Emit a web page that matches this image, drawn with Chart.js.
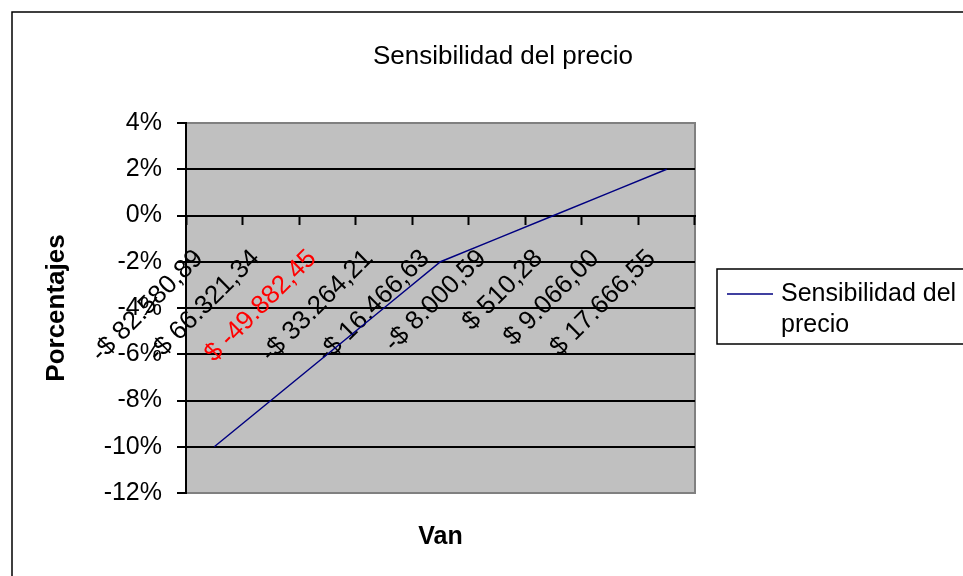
<!DOCTYPE html>
<html>
<head>
<meta charset="utf-8">
<script src="https://cdn.jsdelivr.net/npm/chart.js@4"></script>
<style>
  body { margin: 0; background: #fff; }
  canvas { display: block; }
</style>
</head>
<body>
<canvas id="sensChart" width="963" height="576"></canvas>
<script>
// Datos
const vanLabels = ['-$ 82.580,89', '-$ 66.321,34', '$ -49.882,45', '-$ 33.264,21', '-$ 16.466,63',
                   '-$ 8.000,59', '$ 510,28', '$ 9.066,00', '$ 17.666,55'];
const porcentajes = [-10, -8, -6, -4, -2, -1, 0, 1, 2];
const yMin = -12;
const yMax = 4;
const yStep = 2;
const redLabelIndex = 2;

const chartTitle = 'Sensibilidad del precio';
const xTitle = 'Van';
const yTitle = 'Porcentajes';

Chart.defaults.font.family = '"Liberation Sans", Arial, sans-serif';
Chart.defaults.color = '#000';

// Fondo gris, bordes, título, "Van" y leyenda
const excelLook = {
    id: 'excelLook',
    beforeDraw(chart) {
        const ctx = chart.ctx;
        const a = chart.chartArea;
        ctx.save();
        ctx.fillStyle = '#fff';
        ctx.fillRect(0, 0, chart.width, chart.height);
        ctx.strokeStyle = '#000';
        ctx.lineWidth = 1.5;
        ctx.strokeRect(12, 12, chart.width + 20, chart.height + 20);
        ctx.fillStyle = '#c0c0c0';
        ctx.fillRect(a.left, a.top, a.right - a.left, a.bottom - a.top);
        ctx.strokeStyle = '#808080';
        ctx.lineWidth = 2;
        ctx.strokeRect(a.left, a.top, a.right - a.left, a.bottom - a.top);
        ctx.restore();
    },
    afterDraw(chart) {
        const ctx = chart.ctx;
        const a = chart.chartArea;
        ctx.save();
        ctx.fillStyle = '#000';
        ctx.textBaseline = 'middle';
        ctx.textAlign = 'center';
        ctx.font = '26px "Liberation Sans", Arial, sans-serif';
        ctx.fillText(chartTitle, 503, 57);
        ctx.font = 'bold 25px "Liberation Sans", Arial, sans-serif';
        ctx.fillText(xTitle, (a.left + a.right) / 2, 537);

        // leyenda
        const ds = chart.data.datasets[0];
        ctx.fillStyle = '#fff';
        ctx.fillRect(717, 269, 260, 75);
        ctx.strokeStyle = '#000';
        ctx.lineWidth = 1.5;
        ctx.strokeRect(717, 269, 260, 75);
        ctx.strokeStyle = ds.borderColor;
        ctx.lineWidth = 1.5;
        ctx.beginPath();
        ctx.moveTo(727, 294);
        ctx.lineTo(773, 294);
        ctx.stroke();
        ctx.font = '25px "Liberation Sans", Arial, sans-serif';
        ctx.textAlign = 'left';
        ctx.fillStyle = '#000';
        const words = ds.label.split(' ');
        const lines = [];
        let line = '';
        words.forEach(function(w) {
            const test = line ? line + ' ' + w : w;
            if (ctx.measureText(test).width > 182 && line) {
                lines.push(line);
                line = w;
            } else {
                line = test;
            }
        });
        lines.push(line);
        lines.forEach(function(l, i) {
            ctx.fillText(l, 781, 294 + i * 31);
        });
        ctx.restore();
    }
};

const ctx = document.getElementById('sensChart').getContext('2d');
const sensChart = new Chart(ctx, {
    type: 'line',
    data: {
        labels: vanLabels,
        datasets: [{
            label: chartTitle,
            data: porcentajes,
            borderColor: '#000080',
            borderWidth: 1.5,
            pointRadius: 0,
            tension: 0,
            fill: false
        }]
    },
    options: {
        responsive: false,
        animation: false,
        devicePixelRatio: 1,
        layout: {
            padding: { top: 123, bottom: 83, left: 0, right: 268 }
        },
        plugins: {
            legend: { display: false },
            title: { display: false },
            tooltip: { enabled: false }
        },
        scales: {
            x: {
                position: { y: 0 },
                offset: true,
                grid: {
                    offset: true,
                    drawOnChartArea: false,
                    drawTicks: true,
                    tickLength: 8,
                    tickColor: '#000',
                    tickWidth: 2
                },
                border: { display: true, color: '#000', width: 2 },
                ticks: {
                    autoSkip: false,
                    minRotation: 45,
                    maxRotation: 45,
                    padding: 20,
                    labelOffset: -15,
                    font: { size: 26 },
                    color: function(c) {
                        return c.index === redLabelIndex ? '#ff0000' : '#000';
                    }
                }
            },
            y: {
                min: yMin,
                max: yMax,
                afterFit: function(scale) { scale.width = 186; },
                grid: {
                    color: function(c) {
                        const v = c.tick ? c.tick.value : null;
                        return (v === yMin || v === yMax) ? 'rgba(0,0,0,0)' : '#000';
                    },
                    lineWidth: 2,
                    tickLength: 9,
                    tickColor: '#000',
                    tickWidth: 2
                },
                border: { display: true, color: '#000', width: 2 },
                ticks: {
                    stepSize: yStep,
                    padding: 15,
                    font: { size: 25 },
                    callback: function(v) { return v + '%'; }
                },
                title: {
                    display: true,
                    text: yTitle,
                    font: { size: 26, weight: 'bold' },
                    padding: { top: 41, bottom: 0 }
                }
            }
        }
    },
    plugins: [excelLook]
});
</script>
</body>
</html>
